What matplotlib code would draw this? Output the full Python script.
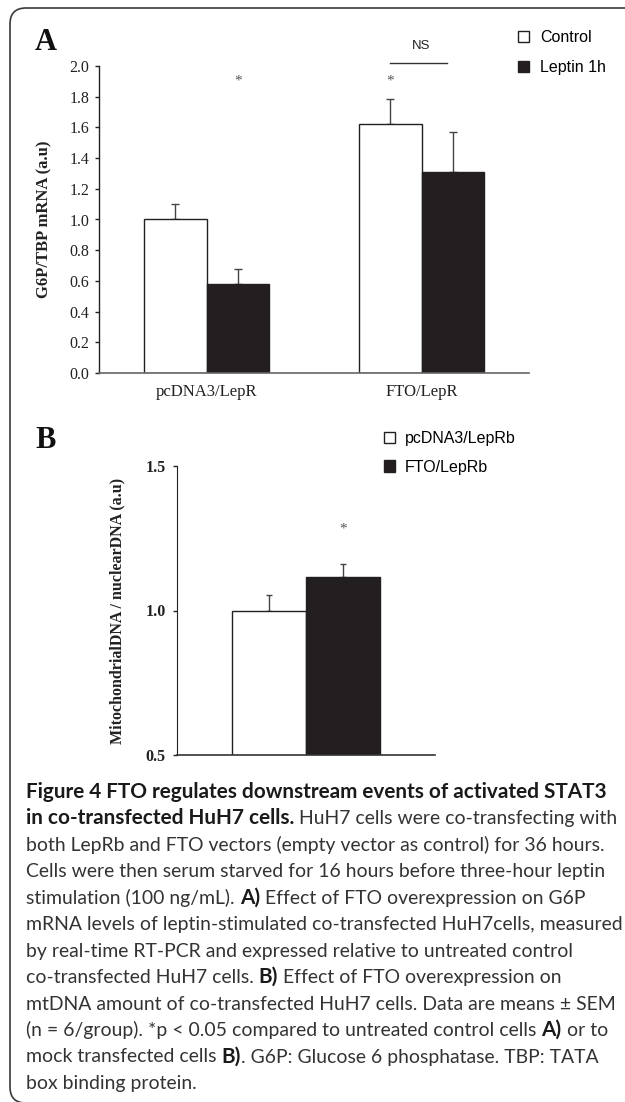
import numpy as np
import matplotlib
matplotlib.use("Agg")
import matplotlib.pyplot as plt
from matplotlib.patches import FancyBboxPatch
from matplotlib.transforms import IdentityTransform

# ---------------- data ----------------
groups_A = ["pcDNA3/LepR", "FTO/LepR"]
series_A = ["Control", "Leptin 1h"]
control_A = [1.00, 1.62]
control_A_err = [0.10, 0.165]
leptin_A = [0.58, 1.31]
leptin_A_err = [0.095, 0.26]
yticks_A = [0.0, 0.2, 0.4, 0.6, 0.8, 1.0, 1.2, 1.4, 1.6, 1.8, 2.0]

series_B = ["pcDNA3/LepRb", "FTO/LepRb"]
values_B = [1.00, 1.115]
err_B = [0.055, 0.046]
yticks_B = [0.5, 1.0, 1.5]

W, H = 625, 1102
fig = plt.figure(figsize=(W / 100, H / 100), dpi=100)
DARK = "#231f20"
SERIF = "Liberation Serif"
SANS = "Liberation Sans"

def fx(px):
    return px / W

def fy(py):
    return 1 - py / H

# ---------------- border ----------------
border = FancyBboxPatch((10, -1), 640, 1095, boxstyle="round,pad=0,rounding_size=16",
                        transform=IdentityTransform(), facecolor="none",
                        edgecolor="#3a3a3a", linewidth=1.2, zorder=0)
fig.patches.append(border)

# ---------------- panel A ----------------
axA = fig.add_axes([fx(99), fy(373), fx(529) - fx(99), fy(66) - fy(373)])
x = np.arange(len(groups_A))
w = 0.29
bc = axA.bar(x - w / 2, control_A, w, color="white", edgecolor=DARK, linewidth=1.0,
             label=series_A[0], zorder=2)
bl = axA.bar(x + w / 2, leptin_A, w, color=DARK, edgecolor=DARK, linewidth=1.0,
             label=series_A[1], zorder=2)
zeros = np.zeros(len(x))
axA.errorbar(x - w / 2, control_A, yerr=[zeros, control_A_err], fmt="none",
             ecolor="#444444", elinewidth=1.0, capsize=3, capthick=1.0, zorder=1)
axA.errorbar(x + w / 2, leptin_A, yerr=[zeros, leptin_A_err], fmt="none",
             ecolor="#444444", elinewidth=1.0, capsize=3, capthick=1.0, zorder=1)
axA.set_xlim(-0.5, 1.5)
axA.set_ylim(0, 2.0)
axA.set_yticks(yticks_A)
axA.set_yticklabels([f"{v:.1f}" for v in yticks_A], fontfamily=SERIF, fontsize=11.5,
                    color="#222222")
axA.set_xticks(x)
axA.set_xticklabels(groups_A, fontfamily=SERIF, fontsize=12, color="#222222")
axA.tick_params(axis="y", direction="out", length=3, width=1, pad=4, color="#222222")
axA.tick_params(axis="x", length=0, pad=8)
for s in ["top", "right"]:
    axA.spines[s].set_visible(False)
axA.spines["left"].set_color("#222222")
axA.spines["bottom"].set_color("#666666")
axA.spines["left"].set_linewidth(1.0)
axA.spines["bottom"].set_linewidth(1.2)
axA.text(-0.128, 0.5, "G6P/TBP mRNA (a.u)", transform=axA.transAxes, rotation=90,
         ha="center", va="center", fontfamily=SERIF, fontweight="bold", fontsize=12,
         color="#222222")
# significance marks
axA.text(x[0] + w / 2, 1.90, "*", ha="center", va="center", fontfamily=SERIF,
         fontsize=11, color="#555555")
axA.text(x[1] - w / 2, 1.90, "*", ha="center", va="center", fontfamily=SERIF,
         fontsize=11, color="#555555")
axA.plot([x[1] - w / 2, x[1] + w / 2 - 0.025], [2.02, 2.02], color="#333333", lw=1.0,
         clip_on=False)
axA.text(x[1], 2.13, "NS", ha="center", va="center", fontfamily=SANS, fontsize=9.5,
         color="#222222", clip_on=False)
axA.legend(handles=[bc, bl], loc="upper left", bbox_to_anchor=(fx(518), fy(30)),
           bbox_transform=fig.transFigure, frameon=False,
           prop={"family": SANS, "size": 11.5}, handlelength=0.68, handleheight=0.68,
           handletextpad=0.7, labelspacing=0.95, borderpad=0, borderaxespad=0)
fig.text(fx(35), fy(42), "A", ha="left", va="center", fontfamily=SERIF,
         fontweight="bold", fontsize=22, color="#111111")

# ---------------- panel B ----------------
axB = fig.add_axes([fx(177), fy(755), fx(435) - fx(177), fy(466) - fy(755)])
xb = np.array([-0.5, 0.5])
b1 = axB.bar(xb[0], values_B[0], 1.0, color="white", edgecolor=DARK, linewidth=1.0,
             label=series_B[0], zorder=2)
b2 = axB.bar(xb[1], values_B[1], 1.0, color=DARK, edgecolor=DARK, linewidth=1.0,
             label=series_B[1], zorder=2)
axB.errorbar(xb, values_B, yerr=[np.zeros(2), err_B], fmt="none", ecolor="#444444",
             elinewidth=1.0, capsize=2.5, capthick=1.0, zorder=1)
axB.set_xlim(-1.743, 1.743)
axB.set_ylim(0.5, 1.5)
axB.set_yticks(yticks_B)
axB.set_yticklabels([f"{v:.1f}" for v in yticks_B], fontfamily=SERIF, fontsize=11.5,
                    fontweight="bold", color="#222222")
axB.set_xticks([])
axB.tick_params(axis="y", direction="out", length=3, width=1, pad=5, color="#222222")
for s in ["top", "right"]:
    axB.spines[s].set_visible(False)
axB.spines["left"].set_color("#222222")
axB.spines["bottom"].set_color("#333333")
axB.spines["bottom"].set_linewidth(1.2)
axB.text(-0.2326, 0.5, "MitochondrialDNA / nuclearDNA (a.u)", transform=axB.transAxes,
         rotation=90, ha="center", va="center", fontfamily=SERIF, fontweight="bold",
         fontsize=11.5, color="#222222")
axB.text(xb[1], 1.282, "*", ha="center", va="center", fontfamily=SERIF, fontsize=11,
         color="#555555")
axB.legend(handles=[b1, b2], loc="upper left", bbox_to_anchor=(fx(384), fy(431)),
           bbox_transform=fig.transFigure, frameon=False,
           prop={"family": SANS, "size": 11.5}, handlelength=0.72, handleheight=0.72,
           handletextpad=0.6, labelspacing=0.85, borderpad=0, borderaxespad=0)
fig.text(fx(35), fy(441), "B", ha="left", va="center", fontfamily=SERIF,
         fontweight="bold", fontsize=22, color="#111111")

# ---------------- caption ----------------
caption = [
    [("Figure 4 FTO regulates downstream events of activated STAT3", True)],
    [("in co-transfected HuH7 cells.", True), (" HuH7 cells were co-transfecting with", False)],
    [("both LepRb and FTO vectors (empty vector as control) for 36 hours.", False)],
    [("Cells were then serum starved for 16 hours before three-hour leptin", False)],
    [("stimulation (100 ng/mL). ", False), ("A)", True), (" Effect of FTO overexpression on G6P", False)],
    [("mRNA levels of leptin-stimulated co-transfected HuH7cells, measured", False)],
    [("by real-time RT-PCR and expressed relative to untreated control", False)],
    [("co-transfected HuH7 cells. ", False), ("B)", True), (" Effect of FTO overexpression on", False)],
    [("mtDNA amount of co-transfected HuH7 cells. Data are means \u00b1 SEM", False)],
    [("(n = 6/group). *p < 0.05 compared to untreated control cells ", False), ("A)", True), (" or to", False)],
    [("mock transfected cells ", False), ("B)", True), (". G6P: Glucose 6 phosphatase. TBP: TATA", False)],
    [("box binding protein.", False)],
]
CAPFONT = "Lato"
renderer = fig.canvas.get_renderer()

def text_w(s, bold, size):
    t = fig.text(0, 0, s, fontfamily=CAPFONT, fontsize=size,
                 fontweight="bold" if bold else "normal")
    wpx = t.get_window_extent(renderer).width
    t.remove()
    return wpx

def run_w(s, bold, size):
    return text_w("A" + s + "A", bold, size) - text_w("AA", bold, size)

# fit font sizes so reference lines span the reference widths
reg_size = 10 * 578 / run_w(caption[2][0][0], False, 10)
bold_size = 10 * 582 / run_w(caption[0][0][0], True, 10)

x0 = 26
base0 = 798
step = 26.45
for i, line in enumerate(caption):
    xp = x0
    yp = base0 + i * step
    for s, bold in line:
        size = bold_size if bold else reg_size
        fig.text(fx(xp), fy(yp), s, ha="left", va="baseline", fontfamily=CAPFONT,
                 fontsize=size, fontweight="bold" if bold else "normal",
                 color="#333333" if not bold else "#1a1a1a")
        xp += run_w(s, bold, size)

fig.savefig("out.png", dpi=100)
